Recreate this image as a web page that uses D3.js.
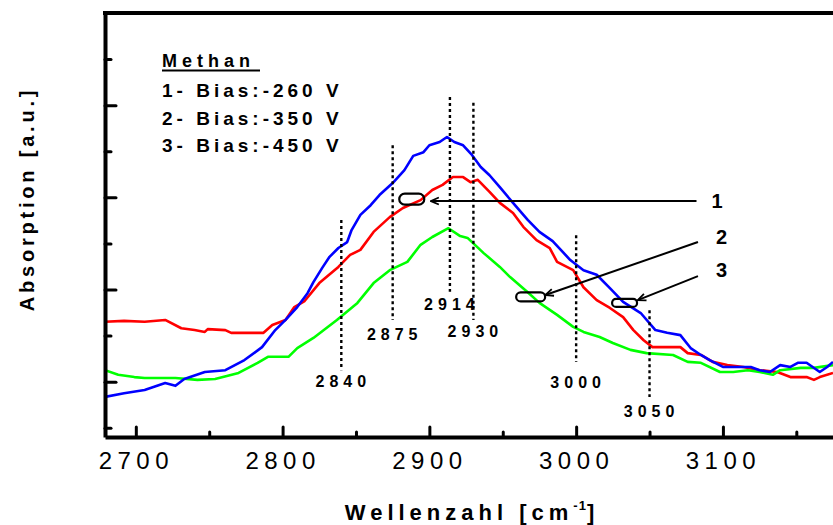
<html lang="de">
<head>
<meta charset="utf-8">
<title>Methan Absorption</title>
<script src="https://d3js.org/d3.v7.min.js"></script>
<style>
  body { margin: 0; background: #fff; }
  text { font-family: "Liberation Sans", Arial, sans-serif; fill: #000; }
  .axis path, .axis line { stroke: #000; }
</style>
</head>
<body>
<script>
// absorption spectra [wavenumber, absorption], one array per bias voltage
var bias260 = [
  [2679,3.30],[2692,3.32],[2706,3.30],[2720,3.34],[2731,3.16],[2740,3.12],[2747,3.08],[2749,3.14],
  [2761,3.12],[2765,3.06],[2787,3.06],[2793,3.23],[2802,3.34],[2808,3.62],[2815,3.75],[2825,4.14],
  [2838,4.49],[2846,4.75],[2853,4.86],[2862,5.25],[2873,5.57],[2882,5.77],[2894,5.94],[2902,6.16],
  [2909,6.27],[2916,6.44],[2923,6.44],[2928,6.33],[2933,6.38],[2941,6.12],[2948,5.88],[2957,5.66],
  [2964,5.36],[2973,5.07],[2982,4.90],[2987,4.60],[2998,4.42],[3005,4.05],[3014,3.77],[3023,3.60],
  [3032,3.40],[3039,3.12],[3046,2.90],[3052,2.75],[3071,2.75],[3076,2.62],[3085,2.58],[3093,2.43],
  [3103,2.36],[3114,2.32],[3125,2.25],[3137,2.21],[3146,2.10],[3157,2.10],[3162,2.04],[3166,2.10],
  [3175,2.19]
];
var bias350 = [
  [2679,2.25],[2688,2.15],[2699,2.10],[2706,2.08],[2727,2.08],[2742,2.04],[2754,2.06],[2770,2.19],
  [2783,2.41],[2790,2.54],[2804,2.54],[2810,2.73],[2821,2.95],[2837,3.34],[2851,3.71],[2862,4.14],
  [2873,4.42],[2885,4.60],[2894,4.97],[2902,5.14],[2913,5.33],[2921,5.16],[2926,5.12],[2937,4.79],
  [2948,4.49],[2955,4.27],[2967,3.94],[2975,3.71],[2987,3.45],[2998,3.19],[3005,3.08],[3016,2.97],
  [3025,2.84],[3037,2.69],[3048,2.62],[3066,2.58],[3076,2.43],[3085,2.41],[3098,2.21],[3107,2.21],
  [3117,2.25],[3125,2.21],[3134,2.15],[3139,2.25],[3153,2.30],[3162,2.30],[3175,2.36]
];
var bias450 = [
  [2679,1.67],[2692,1.75],[2706,1.82],[2720,1.97],[2727,1.91],[2733,2.06],[2747,2.21],[2761,2.25],
  [2774,2.47],[2786,2.75],[2795,3.12],[2802,3.34],[2810,3.62],[2817,3.92],[2821,4.16],[2827,4.47],
  [2832,4.71],[2838,4.90],[2844,5.03],[2847,5.29],[2853,5.62],[2860,5.83],[2866,6.05],[2875,6.31],
  [2883,6.59],[2889,6.90],[2896,6.98],[2900,7.13],[2907,7.20],[2912,7.31],[2917,7.20],[2923,7.13],
  [2929,6.92],[2935,6.66],[2941,6.48],[2948,6.22],[2957,5.88],[2967,5.51],[2975,5.25],[2984,5.05],
  [2996,4.64],[3005,4.42],[3014,4.32],[3023,4.03],[3032,3.73],[3044,3.49],[3054,3.12],[3062,3.06],
  [3071,3.01],[3078,2.73],[3085,2.58],[3091,2.47],[3100,2.32],[3110,2.32],[3119,2.32],[3125,2.25],
  [3132,2.21],[3139,2.36],[3146,2.32],[3151,2.41],[3157,2.41],[3166,2.21],[3171,2.32],[3175,2.43]
];

var xMajor = [2700, 2800, 2900, 3000, 3100];
var xMinor = [2750, 2850, 2950, 3050, 3150];
var yMajor = [2, 4, 6, 8];
var yMinor = [1, 3, 5, 7, 9];

var legendTitle = "Methan";
var legendLines = ["1- Bias:-260 V", "2- Bias:-350 V", "3- Bias:-450 V"];

// band positions marked with dotted lines
var peaks = [2840, 2875, 2914, 2930, 3000, 3050];
// top, bottom and label baseline of each dotted line (absorption units)
var peakTop = [5.51, 7.13, 8.18, 8.05, 5.18, 3.55];
var peakBottom = [2.25, 3.34, 3.95, 3.34, 2.43, 1.67];
var peakLabelY = [1.88, 2.90, 3.56, 2.97, 1.86, 1.23];

// curve markers with arrows pointing at them
var curveLabels = ["1", "2", "3"];
var markerPos = [[2888, 5.96], [2969, 3.84], [3033, 3.71]];
var markerSize = [[25, 11], [29, 9], [25, 8]];
var arrowFrom = [[3082, 5.92], [3083, 5.03], [3083, 4.29]];
var arrowTo = [[2901, 5.92], [2979, 3.88], [3042, 3.77]];
var labelPos = [[3096, 5.92], [3099, 5.14], [3099, 4.42]];

var w = 833, h = 525;
var plotLeft = 105, plotRight = 833, plotTop = 13, plotBottom = 437;

var x = d3.scaleLinear().domain([2679, 3175]).range([plotLeft, plotRight]);
var y = d3.scaleLinear().domain([0.8, 10]).range([plotBottom, plotTop]);

var svg = d3.select("body").append("svg")
  .attr("width", w)
  .attr("height", h);

svg.append("clipPath").attr("id", "plot")
  .append("rect")
  .attr("x", plotLeft).attr("y", plotTop)
  .attr("width", plotRight - plotLeft).attr("height", plotBottom - plotTop);

// spectra
var line = d3.line()
  .x(function(d) { return x(d[0]); })
  .y(function(d) { return y(d[1]); });

var series = [[bias260, "#ff0000"], [bias350, "#00ff00"], [bias450, "#0000ff"]];
series.forEach(function(s) {
  svg.append("path")
    .datum(s[0])
    .attr("clip-path", "url(#plot)")
    .attr("fill", "none")
    .attr("stroke", s[1])
    .attr("stroke-width", 2.6)
    .attr("stroke-linejoin", "round")
    .attr("d", line);
});

// dotted band lines and their labels
peaks.forEach(function(p, i) {
  svg.append("line")
    .attr("x1", x(p)).attr("x2", x(p))
    .attr("y1", y(peakTop[i])).attr("y2", y(peakBottom[i]))
    .attr("stroke", "#000")
    .attr("stroke-width", 2.4)
    .attr("stroke-dasharray", "3,3");
  svg.append("text")
    .attr("x", x(p) + 2)
    .attr("y", y(peakLabelY[i]))
    .attr("text-anchor", "middle")
    .attr("font-size", "16px")
    .attr("font-weight", "bold")
    .attr("letter-spacing", "5px")
    .text(p);
});

// arrow head
svg.append("defs").append("marker")
  .attr("id", "head")
  .attr("viewBox", "0 0 10 10")
  .attr("refX", 9).attr("refY", 5)
  .attr("markerWidth", 10).attr("markerHeight", 10)
  .attr("markerUnits", "userSpaceOnUse")
  .attr("orient", "auto")
  .append("path")
  .attr("d", "M1,1.5 L9,5 L1,8.5")
  .attr("fill", "none")
  .attr("stroke", "#000")
  .attr("stroke-width", 1.8);

curveLabels.forEach(function(c, i) {
  svg.append("rect")
    .attr("x", x(markerPos[i][0]) - markerSize[i][0] / 2)
    .attr("y", y(markerPos[i][1]) - markerSize[i][1] / 2)
    .attr("width", markerSize[i][0])
    .attr("height", markerSize[i][1])
    .attr("rx", markerSize[i][1] / 2)
    .attr("fill", "none")
    .attr("stroke", "#000")
    .attr("stroke-width", 2.2);
  svg.append("line")
    .attr("x1", x(arrowFrom[i][0])).attr("y1", y(arrowFrom[i][1]))
    .attr("x2", x(arrowTo[i][0])).attr("y2", y(arrowTo[i][1]))
    .attr("stroke", "#000")
    .attr("stroke-width", 2)
    .attr("marker-end", "url(#head)");
  svg.append("text")
    .attr("x", x(labelPos[i][0]))
    .attr("y", y(labelPos[i][1]))
    .attr("dy", "0.36em")
    .attr("text-anchor", "middle")
    .attr("font-size", "20px")
    .attr("font-weight", "bold")
    .text(c);
});

// axes: ticks point into the plot
var xAxis = svg.append("g")
  .attr("class", "axis")
  .attr("transform", "translate(0," + plotBottom + ")")
  .call(d3.axisBottom(x).tickValues(xMajor).tickSizeInner(-10).tickSizeOuter(0)
    .tickFormat(d3.format("d")));
xAxis.select(".domain").attr("stroke-width", 4);
xAxis.selectAll(".tick line").attr("stroke-width", 3).attr("stroke-linecap", "round");
xAxis.selectAll(".tick text")
  .attr("y", 32).attr("dy", null)
  .attr("font-size", "24px")
  .attr("letter-spacing", "5.5px")
  .attr("font-family", null);

svg.append("g")
  .attr("class", "axis")
  .attr("transform", "translate(0," + plotBottom + ")")
  .call(d3.axisBottom(x).tickValues(xMinor).tickSizeInner(-5).tickSizeOuter(0).tickFormat(""))
  .call(function(g) {
    g.select(".domain").remove();
    g.selectAll(".tick line").attr("stroke-width", 3).attr("stroke-linecap", "round");
  });

var yAxis = svg.append("g")
  .attr("class", "axis")
  .attr("transform", "translate(" + plotLeft + ",0)")
  .call(d3.axisLeft(y).tickValues(yMajor).tickSizeInner(-11).tickSizeOuter(0).tickFormat(""));
yAxis.select(".domain").attr("stroke-width", 4);
yAxis.selectAll(".tick line").attr("stroke-width", 3).attr("stroke-linecap", "round");

svg.append("g")
  .attr("class", "axis")
  .attr("transform", "translate(" + plotLeft + ",0)")
  .call(d3.axisLeft(y).tickValues(yMinor).tickSizeInner(-6).tickSizeOuter(0).tickFormat(""))
  .call(function(g) {
    g.select(".domain").remove();
    g.selectAll(".tick line").attr("stroke-width", 3).attr("stroke-linecap", "round");
  });

// top frame
svg.append("line")
  .attr("x1", plotLeft - 2).attr("x2", plotRight)
  .attr("y1", plotTop).attr("y2", plotTop)
  .attr("stroke", "#000")
  .attr("stroke-width", 4);

// legend
var legend = svg.append("g").attr("transform", "translate(162,0)");
legend.append("text")
  .attr("x", 0).attr("y", 67)
  .attr("font-size", "18px")
  .attr("font-weight", "bold")
  .attr("letter-spacing", "5px")
  .text(legendTitle);
legend.append("line")
  .attr("x1", 0).attr("x2", 98)
  .attr("y1", 70.5).attr("y2", 70.5)
  .attr("stroke", "#000")
  .attr("stroke-width", 2);
legend.selectAll(".entry")
  .data(legendLines)
  .enter()
  .append("text")
  .attr("class", "entry")
  .attr("x", 0)
  .attr("y", function(d, i) { return 97 + i * 27.5; })
  .attr("font-size", "19px")
  .attr("font-weight", "bold")
  .attr("letter-spacing", "4px")
  .text(function(d) { return d; });

// axis titles
var xTitle = svg.append("text")
  .attr("x", 472)
  .attr("y", 520)
  .attr("text-anchor", "middle")
  .attr("font-size", "22px")
  .attr("font-weight", "bold")
  .attr("letter-spacing", "5px");
xTitle.append("tspan").text("Wellenzahl [cm");
xTitle.append("tspan").attr("dy", -10).attr("font-size", "13px").attr("letter-spacing", "1px").text("-1");
xTitle.append("tspan").attr("dy", 10).text("]");

svg.append("text")
  .attr("transform", "translate(34,199) rotate(-90)")
  .attr("text-anchor", "middle")
  .attr("font-size", "20px")
  .attr("font-weight", "bold")
  .attr("letter-spacing", "3.8px")
  .text("Absorption [a.u.]");
</script>
</body>
</html>
